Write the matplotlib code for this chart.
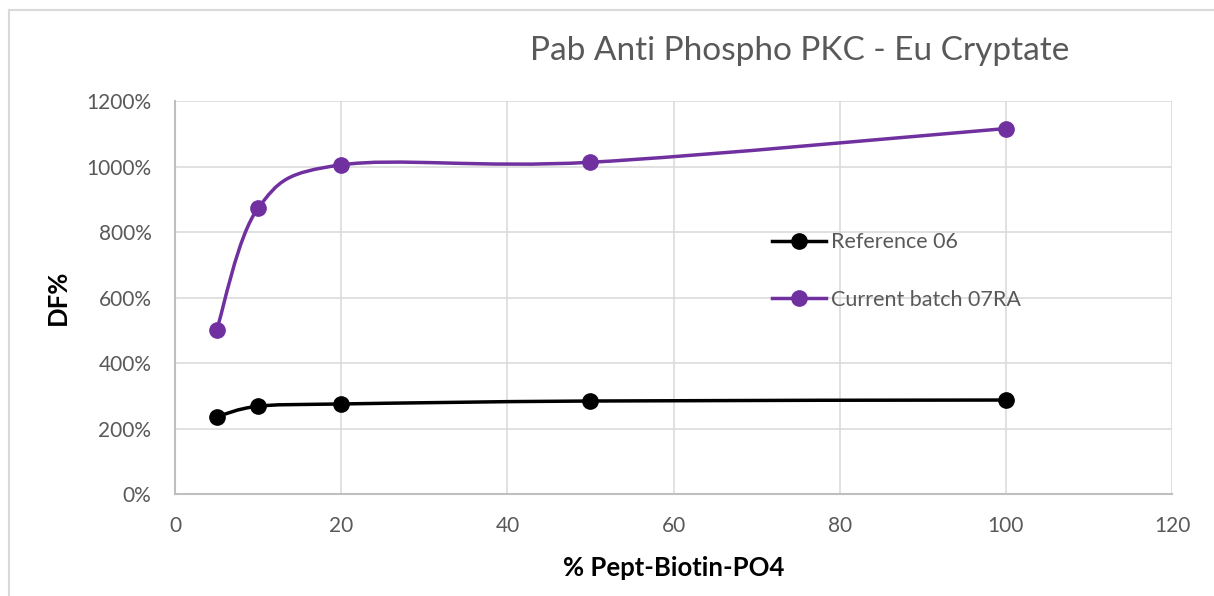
import matplotlib
matplotlib.use('Agg')
import matplotlib.pyplot as plt
from matplotlib.path import Path
from matplotlib.patches import PathPatch
from matplotlib.lines import Line2D
from matplotlib.ticker import PercentFormatter
import numpy as np

### Data
pept_pct     = [5, 10, 20, 50, 100]
reference_06 = [236, 268, 275, 284, 287]
batch_07ra   = [500, 873, 1005, 1013, 1116]

series_names  = ['Reference 06', 'Current batch 07RA']
series_colors = ['#000000', '#7030A0']

x_ticks = [0, 20, 40, 60, 80, 100, 120]
y_ticks = [0, 200, 400, 600, 800, 1000, 1200]

plt.rcParams['font.family'] = ['Lato', 'DejaVu Sans']


def smooth_path(xs, ys):
	# Excel style smoothed line: cubic bezier, control points from neighbours
	pts = np.column_stack([xs, ys]).astype(float)
	n = len(pts)
	verts = [pts[0]]
	codes = [Path.MOVETO]
	for i in range(n - 1):
		p0 = pts[i - 1] if i > 0 else pts[i]
		p1 = pts[i]
		p2 = pts[i + 1]
		p3 = pts[i + 2] if i + 2 < n else pts[i + 1]
		c1 = p1 + (p2 - p0) / 6.0
		c2 = p2 - (p3 - p1) / 6.0
		verts += [c1, c2, p2]
		codes += [Path.CURVE4] * 3
	return Path(verts, codes)


fig = plt.figure(figsize=(12.14, 5.96), dpi=100)
ax  = fig.add_axes([0.1442, 0.1711, 0.8213, 0.6594])

handles = []
for ys, name, col in zip([reference_06, batch_07ra], series_names, series_colors):
	ax.add_patch(PathPatch(smooth_path(pept_pct, ys), facecolor='none',
	                       edgecolor=col, lw=2.5, zorder=3))
	ax.plot(pept_pct, ys, linestyle='none', marker='o', ms=11,
	        color=col, zorder=4)
	handles.append(Line2D([], [], color=col, lw=2.5, marker='o', ms=11,
	                      label=name))

ax.set_xlim(0, 120)
ax.set_ylim(0, 1200)
ax.set_xticks(x_ticks)
ax.set_yticks(y_ticks)
ax.yaxis.set_major_formatter(PercentFormatter(decimals=0))

ax.grid(True, color='#d9d9d9', lw=1.1, zorder=0)
ax.set_axisbelow(True)
for side in ['top', 'right']:
	ax.spines[side].set_visible(False)
for side in ['left', 'bottom']:
	ax.spines[side].set_color('#bfbfbf')
	ax.spines[side].set_linewidth(1.5)

ax.tick_params(length=0, labelsize=15, labelcolor='#595959')
ax.tick_params(axis='y', pad=17)
ax.tick_params(axis='x', pad=16)

ax.set_xlabel('% Pept-Biotin-PO4', fontsize=18.5, fontweight='bold',
              labelpad=14)
ax.set_ylabel('DF%', fontsize=18.5, fontweight='bold', labelpad=12)

fig.text(0.659, 0.914, 'Pab Anti Phospho PKC - Eu Cryptate',
         ha='center', va='center', fontsize=24, color='#595959')

ax.legend(handles=handles, loc='upper left', bbox_to_anchor=(0.629, 0.625),
          bbox_transform=fig.transFigure, frameon=False, fontsize=15.5,
          labelcolor='#595959', handlelength=2.5, handletextpad=0.25,
          labelspacing=1.75, borderaxespad=0)

# light chart border (top and left)
fig.add_artist(Line2D([0.0075, 1.0], [0.984, 0.984], color='#d9d9d9', lw=1.5,
                      transform=fig.transFigure))
fig.add_artist(Line2D([0.0075, 0.0075], [0.0, 0.984], color='#d9d9d9', lw=1.5,
                      transform=fig.transFigure))

fig.savefig('out.png', dpi=100, facecolor='white')
